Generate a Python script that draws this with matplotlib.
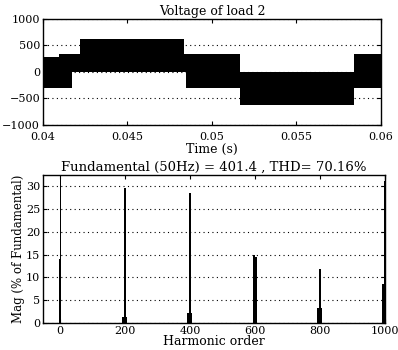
import matplotlib
matplotlib.use('Agg')
import matplotlib.pyplot as plt

plt.rcParams['font.family'] = ['DejaVu Serif']
plt.rcParams['font.size'] = 9

# voltage of load 2: switching bands (start time, lower level, upper level)
seg_t = [0.04, 0.04095, 0.0417, 0.0422, 0.04834, 0.04846, 0.05166, 0.0584, 0.06]
seg_lo = [-310, -310, 0, 0, 0, -310, -620, -310]
seg_hi = [290, 330, 330, 620, 330, 330, 0, 330]

# harmonic spectrum (% of fundamental)
h_order = [1, 0, 196, 200, 204, 396, 400, 404, 598, 602, 796, 800, 804, 996, 1000]
h_mag = [100, 14, 1.5, 29.6, 1.5, 2.2, 28.3, 2.2, 15.0, 14.4, 3.3, 11.8, 3.3, 8.5, 31]

fig = plt.figure(figsize=(3.98, 3.5), dpi=100)
ax1 = fig.add_axes([0.108, 0.643, 0.849, 0.303])
ax2 = fig.add_axes([0.108, 0.076, 0.859, 0.425])

# top: waveform
lo = seg_lo + [seg_lo[-1]]
hi = seg_hi + [seg_hi[-1]]
ax1.fill_between(seg_t, lo, hi, step='post', color='k', lw=0)
ax1.set_xlim(0.04, 0.06)
ax1.set_ylim(-1000, 1000)
ax1.set_xticks([0.04, 0.045, 0.05, 0.055, 0.06])
ax1.set_xticklabels(['0.04', '0.045', '0.05', '0.055', '0.06'])
ax1.set_yticks([-1000, -500, 0, 500, 1000])
ax1.set_title('Voltage of load 2', fontsize=9, pad=3)
ax1.set_xlabel('Time (s)', labelpad=0.5)

# bottom: spectrum
ax2.bar(h_order[:1], h_mag[:1], width=3, color='k', lw=0)
ax2.bar(h_order[1:], h_mag[1:], width=7, color='k', lw=0)
ax2.set_xlim(-52, 1000)
ax2.set_ylim(0, 32.4)
ax2.set_xticks([0, 200, 400, 600, 800, 1000])
ax2.set_yticks([0, 5, 10, 15, 20, 25, 30])
ax2.set_title('Fundamental (50Hz) = 401.4 , THD= 70.16%', fontsize=9.5, pad=3)
ax2.set_xlabel('Harmonic order', labelpad=-1)
ax2.set_ylabel('Mag (% of Fundamental)', labelpad=1, fontsize=8.5)

for ax in (ax1, ax2):
    ax.yaxis.grid(True, linestyle=(0, (1, 3)), color='k', lw=0.8)
    ax.set_axisbelow(False)
    ax.tick_params(direction='in', top=True, right=True, length=3, width=0.8, pad=2, labelsize=8)
    for s in ax.spines.values():
        s.set_linewidth(1.0)
ax1.tick_params(axis='x', pad=5)

fig.savefig('out.png', dpi=100)
